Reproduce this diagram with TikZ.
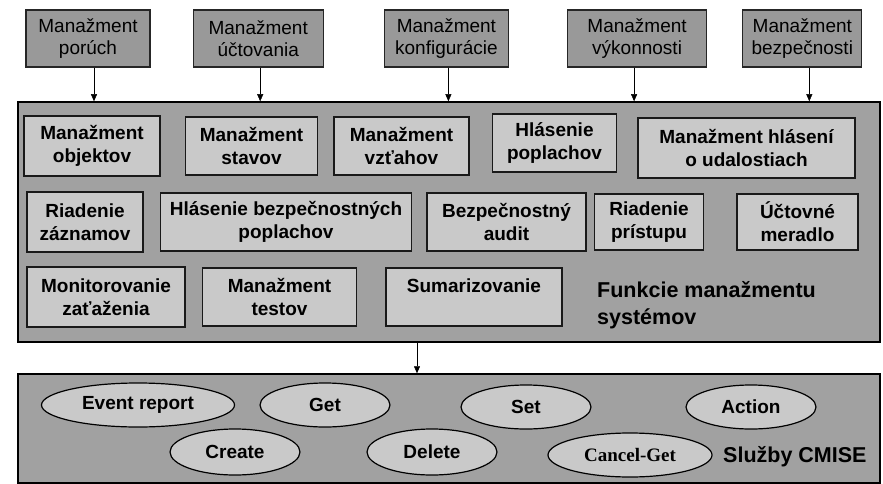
\documentclass[tikz,border=0pt]{standalone}
\usepackage{fontspec}
\setmainfont{Liberation Sans}
\newfontfamily\timesfont{Liberation Serif}
\usepackage{tikz}
\usetikzlibrary{arrows.meta,shapes,positioning}

\definecolor{topgray}{gray}{0.60}
\definecolor{framegray}{gray}{0.63}
\definecolor{boxgray}{gray}{0.79}

\begin{document}
\begin{tikzpicture}[
  x = 1pt, y = -1pt,
  > = {Triangle[length=7pt,width=6pt]},
  mgmt/.style  = {rectangle, draw=black!85, fill=topgray, line width=1.2pt,
                  align=center, inner sep=0pt, minimum height=57pt,
                  font=\fontsize{19}{22}\selectfont},
  frame/.style = {rectangle, draw=black, fill=framegray, line width=1.5pt,
                  inner sep=0pt},
  fn/.style    = {rectangle, draw=black!90, fill=boxgray, line width=1.5pt,
                  align=center, inner sep=0pt, minimum height=58pt,
                  font=\bfseries\fontsize{19}{23}\selectfont},
  svc/.style   = {ellipse, draw=black, fill=boxgray, line width=1.2pt,
                  inner sep=0pt, minimum width=130pt, minimum height=44pt,
                  font=\bfseries\fontsize{19}{23}\selectfont},
  title/.style = {align=left, inner sep=0pt,
                  font=\bfseries\fontsize{21.5}{27}\selectfont}
]
\useasboundingbox (0,0) rectangle (883,484);

% ───────── frames ─────────
\node[frame, minimum width=862pt, minimum height=240pt] (sysfn) at (449,222) {};
\node[frame, minimum width=862pt, minimum height=109pt] (cmise) at (449,428.5) {};

% ───────── management areas ─────────
\node[mgmt, minimum width=124pt] (fault) at (88,38.5) {Manažment\\porúch};
\node[mgmt, minimum width=130pt, right=42pt of fault] (acct) {Manažment\\účtovania};
\node[mgmt, minimum width=124pt, right=60pt of acct]  (conf) {Manažment\\konfigurácie};
\node[mgmt, minimum width=139pt, right=58pt of conf]  (perf) {Manažment\\výkonnosti};
\node[mgmt, minimum width=119pt, right=35pt of perf]  (secur) {Manažment\\bezpečnosti};

% ───────── 1st row ─────────
\node[fn, minimum width=136pt, minimum height=60pt] (objekt) at (92,146) {Manažment\\objektov};
\node[fn, minimum width=132pt, right=24pt of objekt] (stav) {Manažment\\stavov};
\node[fn, minimum width=135pt, right=15pt of stav]   (vztah) {Manažment\\vzťahov};
\node[fn, minimum width=124pt, right=22pt of vztah, yshift=3pt] (poplach) {Hlásenie\\poplachov};
\node[fn, minimum width=217pt, minimum height=60pt, right=20pt of poplach, yshift=-5pt] (udalost) {Manažment hlásení\\o udalostiach};

% ───────── 2nd row ─────────
\node[fn, minimum width=116pt, minimum height=60pt] (zaznam) at (85,222) {Riadenie\\záznamov};
\node[fn, minimum width=251pt, right=16pt of zaznam]   (bpoplach) {Hlásenie bezpečnostných\\poplachov};
\node[fn, minimum width=159pt, right=14pt of bpoplach] (audit) {Bezpečnostný\\audit};
\node[fn, minimum width=109pt, minimum height=56pt, right=7pt of audit]   (pristup) {Riadenie\\prístupu};
\node[fn, minimum width=121pt, minimum height=56pt, right=32pt of pristup] (meradlo) {Účtovné\\meradlo};

% ───────── 3rd row ─────────
\node[fn, minimum width=158pt, minimum height=60pt] (zataz) at (106,297) {Monitorovanie\\zaťaženia};
\node[fn, minimum width=154pt, right=16pt of zataz] (test) {Manažment\\testov};
\node[fn, minimum width=176pt, right=28pt of test]  (suma) {Sumarizovanie\\\mbox{}};

\node[title, anchor=west] (sysTitle) at (597,305) {Funkcie manažmentu\\systémov};

% ───────── CMISE services ─────────
\node[svc, minimum width=193pt] (event) at (138,405) {Event report};
\node[svc] (get)    at (325,405) {Get};
\node[svc] (set)    at (526,407) {Set};
\node[svc] (action) at (751,407) {Action};
\node[svc, minimum height=46pt] (create) at (235,452) {Create};
\node[svc, minimum height=46pt] (delete) at (432,452) {Delete};
\node[svc, minimum width=164pt, font=\timesfont\bfseries\fontsize{19}{23}\selectfont] (cancel) at (630,455) {Cancel-Get};

\node[title, anchor=west] (cmiseTitle) at (723,457) {Služby CMISE};

% ───────── arrows ──────────
\draw[->] ([xshift=6pt]fault.south)  -- ([xshift=6pt]fault.south |- sysfn.north);
\draw[->] ([xshift=2pt]acct.south)   -- ([xshift=2pt]acct.south |- sysfn.north);
\draw[->] ([xshift=2pt]conf.south)   -- ([xshift=2pt]conf.south |- sysfn.north);
\draw[->] ([xshift=-3pt]perf.south)  -- ([xshift=-3pt]perf.south |- sysfn.north);
\draw[->] ([xshift=7pt]secur.south)  -- ([xshift=7pt]secur.south |- sysfn.north);

\draw[->] ([xshift=-32pt]sysfn.south) -- ([xshift=-32pt]cmise.north);

\end{tikzpicture}
\end{document}
